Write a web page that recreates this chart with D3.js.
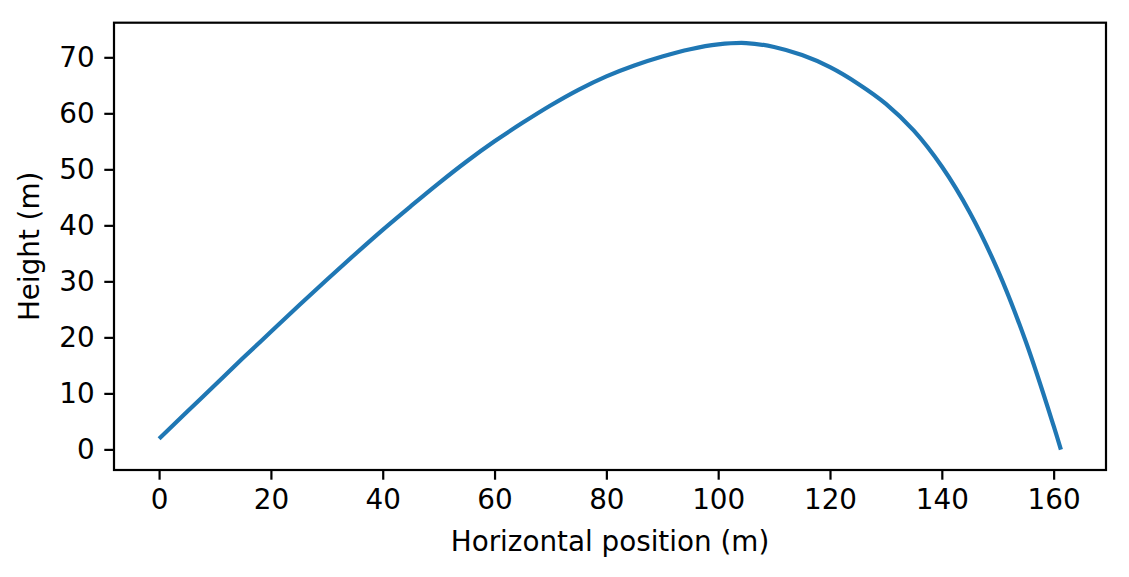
<!DOCTYPE html>
<html>
    <head>
        <title>Trajectory</title>
        <meta charset="utf-8">
        <style>
            html, body {
                margin: 0px;
                padding: 0px;
                background-color: #ffffff;
                font-family: "DejaVu Sans";
            }

            #main svg {
                display: block;
            }

            .axis text {
                fill: #000000;
                font-family: "DejaVu Sans";
                font-size: 27.8px;
            }

            .axis line {
                stroke: #000000;
                stroke-width: 2.2px;
            }

            .axis .domain {
                stroke: none;
            }

            .frame {
                fill: none;
                stroke: #000000;
                stroke-width: 2.2px;
            }

            .label {
                fill: #000000;
                font-family: "DejaVu Sans";
                font-size: 27.8px;
            }
        </style>
        <script src="https://cdn.jsdelivr.net/npm/d3@7"></script>
    </head>
    <body>
        <div id="main">
        </div>

        <script>
            // horizontal position (m) and height (m)
            var positions = [0, 5, 10, 15, 20, 25, 30, 35, 40, 45, 50, 55, 60, 65, 70, 75, 80,
                             85, 90, 95, 100, 105, 110, 115, 120, 125, 130, 135, 140, 145,
                             150, 155, 160, 161.3];
            var heights = [1.9, 6.7, 11.5, 16.3, 21.0, 25.7, 30.3, 34.8, 39.2, 43.4, 47.5, 51.4,
                           55.0, 58.3, 61.4, 64.2, 66.6, 68.55, 70.15, 71.45, 72.3, 72.55, 71.85,
                           70.4, 68.25, 65.3, 61.7, 56.9, 50.5, 42.3, 32.0, 19.3, 4.2, -0.05];
            var xTicks = [0, 20, 40, 60, 80, 100, 120, 140, 160];
            var yTicks = [0, 10, 20, 30, 40, 50, 60, 70];
            var xLabel = "Horizontal position (m)";
            var yLabel = "Height (m)";

            var width = 1129;
            var height = 577;
            var plot = {left: 114, right: 1106, top: 22.7, bottom: 470};
            var tickLength = 9.7;
            var tickPad = 9.7;

            function paddedDomain(values) {
                var lo = d3.min(values), hi = d3.max(values);
                var margin = (hi - lo) * 0.05;
                return [lo - margin, hi + margin];
            }

            function main() {
                var svg = d3.select("#main")
                            .append("svg")
                            .attr("width", width)
                            .attr("height", height);

                var x = d3.scaleLinear()
                    .domain(paddedDomain(positions))
                    .range([plot.left, plot.right]);

                var y = d3.scaleLinear()
                    .domain(paddedDomain(heights))
                    .range([plot.bottom, plot.top]);

                var points = positions.map(function(p, i) { return {x: p, y: heights[i]}; });

                var line = d3.line()
                    .curve(d3.curveCatmullRom.alpha(0.5))
                    .x(function(d) { return x(d.x); })
                    .y(function(d) { return y(d.y); });

                svg.append("path")
                    .datum(points)
                    .attr("fill", "none")
                    .attr("stroke", "#1f77b4")
                    .attr("stroke-width", 4.2)
                    .attr("stroke-linecap", "butt")
                    .attr("stroke-linejoin", "round")
                    .attr("d", line);

                svg.append("g")
                    .attr("class", "axis")
                    .attr("transform", "translate(0," + plot.bottom + ")")
                    .call(d3.axisBottom(x).tickValues(xTicks).tickFormat(d3.format("d"))
                        .tickSizeInner(tickLength).tickSizeOuter(0).tickPadding(tickPad));

                svg.append("g")
                    .attr("class", "axis")
                    .attr("transform", "translate(" + plot.left + ",0)")
                    .call(d3.axisLeft(y).tickValues(yTicks).tickFormat(d3.format("d"))
                        .tickSizeInner(tickLength).tickSizeOuter(0).tickPadding(tickPad));

                svg.append("rect")
                    .attr("class", "frame")
                    .attr("x", plot.left)
                    .attr("y", plot.top)
                    .attr("width", plot.right - plot.left)
                    .attr("height", plot.bottom - plot.top);

                svg.append("text")
                    .attr("class", "label")
                    .attr("text-anchor", "middle")
                    .attr("x", (plot.left + plot.right) / 2)
                    .attr("y", 551)
                    .text(xLabel);

                svg.append("text")
                    .attr("class", "label")
                    .attr("text-anchor", "middle")
                    .attr("transform", "translate(39," + (plot.top + plot.bottom) / 2 + ") rotate(-90)")
                    .text(yLabel);
            }

            main();
        </script>
    </body>
</html>
